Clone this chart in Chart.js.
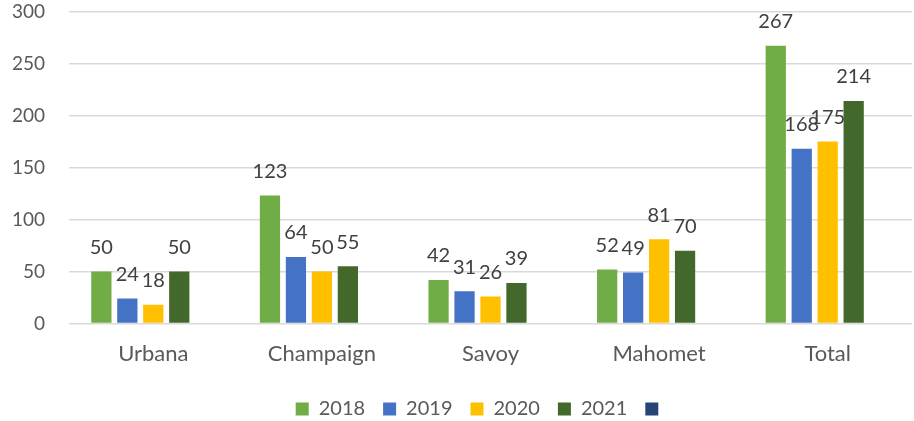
<!DOCTYPE html>
<html>
<head>
<meta charset="utf-8">
<script src="https://cdn.jsdelivr.net/npm/chart.js@4"></script>
<style>
  html, body { margin: 0; padding: 0; background: #fff; }
  #wrap { width: 914px; height: 421px; position: relative; }
</style>
</head>
<body>
<div id="wrap"><canvas id="chart"></canvas></div>
<script>
// 類別與數據
const categories = ['Urbana', 'Champaign', 'Savoy', 'Mahomet', 'Total'];
const seriesNames = ['2018', '2019', '2020', '2021', ''];
const values2018 = [50, 123, 42, 52, 267];
const values2019 = [24, 64, 31, 49, 168];
const values2020 = [18, 50, 26, 81, 175];
const values2021 = [50, 55, 39, 70, 214];
const valuesEmpty = [null, null, null, null, null];
const yTicks = [0, 50, 100, 150, 200, 250, 300];

const colors = ['#70AD47', '#4472C4', '#FFC000', '#43682B', '#264478'];
const allValues = [values2018, values2019, values2020, values2021, valuesEmpty];

// 資料標籤外掛
const barLabels = {
    id: 'barLabels',
    afterDatasetsDraw(chart) {
        const ctx = chart.ctx;
        ctx.save();
        ctx.font = '20px Lato, "Open Sans", sans-serif';
        ctx.fillStyle = '#404040';
        ctx.textAlign = 'center';
        ctx.textBaseline = 'bottom';
        chart.data.datasets.forEach((ds, i) => {
            const meta = chart.getDatasetMeta(i);
            meta.data.forEach((bar, j) => {
                const v = ds.data[j];
                if (v === null || v === undefined) return;
                ctx.fillText(String(v), bar.x, bar.y - 14);
            });
        });
        ctx.restore();
    }
};

// 圖例稍微右移（空白的第五項讓置中偏左）
const legendShift = {
    id: 'legendShift',
    afterLayout(chart) {
        if (chart.legend) {
            chart.legend.left += 26;
            chart.legend.right += 26;
        }
    }
};

new Chart(document.getElementById('chart'), {
    type: 'bar',
    data: {
        labels: categories,
        datasets: allValues.map((vals, i) => ({
            label: seriesNames[i],
            data: vals,
            backgroundColor: colors[i],
            borderWidth: 0,
            categoryPercentage: 0.77,
            barPercentage: 0.78
        }))
    },
    options: {
        responsive: true,
        maintainAspectRatio: false,
        animation: false,
        layout: { padding: { top: 3, right: 2, left: 0, bottom: -8 } },
        plugins: {
            legend: {
                position: 'bottom',
                labels: {
                    boxWidth: 13,
                    boxHeight: 13,
                    padding: 18,
                    color: '#595959',
                    font: { family: 'Lato, "Open Sans", sans-serif', size: 20 }
                }
            },
            tooltip: { enabled: false }
        },
        scales: {
            x: {
                grid: { display: false },
                border: { display: false },
                afterFit(scale) { scale.height += 5; },
                ticks: {
                    color: '#595959',
                    padding: 9,
                    font: { family: 'Lato, "Open Sans", sans-serif', size: 22 }
                }
            },
            y: {
                min: 0,
                max: 300,
                afterBuildTicks(scale) {
                    scale.ticks = yTicks.map(v => ({ value: v }));
                },
                afterFit(scale) { scale.width = 69; },
                grid: {
                    color: '#D9D9D9',
                    lineWidth: 1.5,
                    drawTicks: true,
                    tickLength: 24,
                    tickColor: 'rgba(0,0,0,0)'
                },
                border: { display: false },
                ticks: {
                    color: '#595959',
                    padding: 0,
                    font: { family: 'Lato, "Open Sans", sans-serif', size: 19 }
                }
            }
        }
    },
    plugins: [barLabels, legendShift]
});
</script>
</body>
</html>
